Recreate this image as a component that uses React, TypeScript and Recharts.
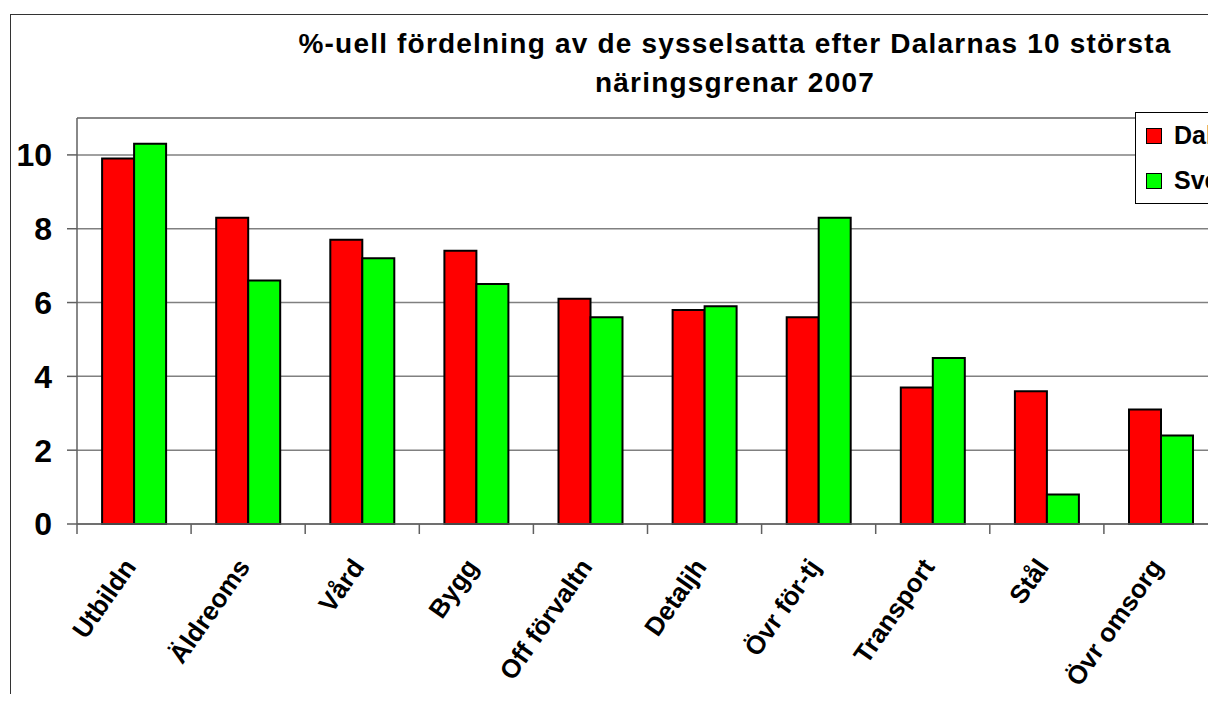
import React from 'react';
import { BarChart, Bar, XAxis, YAxis, CartesianGrid, Legend, ReferenceLine } from 'recharts';

const categories = ['Utbildn', 'Äldreoms', 'Vård', 'Bygg', 'Off förvaltn', 'Detaljh', 'Övr för-tj', 'Transport', 'Stål', 'Övr omsorg'];
const dalarna = [9.9, 8.3, 7.7, 7.4, 6.1, 5.8, 5.6, 3.7, 3.6, 3.1];
const sverige = [10.3, 6.6, 7.2, 6.5, 5.6, 5.9, 8.3, 4.5, 0.8, 2.4];
const seriesNames = ['Dalarna', 'Sverige'];
const seriesColors = ['#FF0000', '#00FF00'];
const yTicks = [0, 2, 4, 6, 8, 10];
const titleLines = ['%-uell fördelning av de sysselsatta efter Dalarnas 10 största', 'näringsgrenar 2007'];

const data = categories.map((name, i) => ({ name, dalarna: dalarna[i], sverige: sverige[i] }));

const FONT = '"Liberation Sans", Arial, sans-serif';
const AXIS_COLOR = '#606060';

const XTick = (props: any) => {
  const { x, y, payload, index } = props;
  const off = payload && typeof payload.offset === 'number' ? payload.offset : 0;
  const isLast = index === categories.length - 1;
  return (
    <g>
      <line x1={x - off} x2={x - off} y1={y} y2={y + 10} stroke={AXIS_COLOR} strokeWidth={1.5} />
      {isLast && <line x1={x + off} x2={x + off} y1={y} y2={y + 10} stroke={AXIS_COLOR} strokeWidth={1.5} />}
      <g transform={`translate(${x + 3},${y + 43})`}>
        <text textAnchor="end" transform="rotate(-55)" fontSize={26} fontWeight="bold" fill="#000" fontFamily={FONT}>
          {payload.value}
        </text>
      </g>
    </g>
  );
};

const LegendBox = (props: any) => {
  const { payload } = props;
  return (
    <div
      style={{
        border: '1.5px solid #000',
        background: '#fff',
        width: 200,
        height: 92,
        boxSizing: 'border-box',
        paddingLeft: 10,
        fontFamily: FONT,
      }}
    >
      {(payload || []).map((p: any, i: number) => (
        <div key={i} style={{ height: 45, display: 'flex', alignItems: 'center' }}>
          <div
            style={{
              width: 16,
              height: 16,
              boxSizing: 'border-box',
              background: p.color,
              border: '1.5px solid #000',
              marginRight: 12,
            }}
          />
          <span style={{ fontSize: 25, fontWeight: 'bold', color: '#000' }}>{p.value}</span>
        </div>
      ))}
    </div>
  );
};

export default function App() {
  return (
    <div
      style={{
        position: 'relative',
        width: 1216,
        height: 702,
        margin: -8,
        overflow: 'hidden',
        background: '#fff',
        fontFamily: FONT,
      }}
    >
      <div
        style={{
          position: 'absolute',
          left: 10,
          top: 14,
          width: 1400,
          height: 900,
          border: '1.5px solid #333',
        }}
      />
      <div
        style={{
          position: 'absolute',
          left: 0,
          top: 24,
          width: 1470,
          textAlign: 'center',
          fontSize: 28,
          lineHeight: '39px',
          fontWeight: 'bold',
          letterSpacing: 1.2,
          color: '#000',
        }}
      >
        {titleLines.map((t, i) => (
          <div key={i}>{t}</div>
        ))}
      </div>
      <div style={{ position: 'absolute', left: 0, top: 0 }}>
        <BarChart
          width={1300}
          height={702}
          data={data}
          margin={{ top: 118, right: 82, bottom: 0, left: 0 }}
          barCategoryGap="22%"
          barGap={0}
        >
          <CartesianGrid vertical={false} stroke="#808080" strokeWidth={1.5} />
          <XAxis
            dataKey="name"
            height={178}
            interval={0}
            tickLine={false}
            tickSize={0}
            tickMargin={0}
            axisLine={{ stroke: AXIS_COLOR, strokeWidth: 1.5 }}
            tick={<XTick />}
          />
          <YAxis
            width={77}
            domain={[0, 11]}
            ticks={yTicks}
            interval={0}
            tickSize={10}
            tickMargin={15}
            axisLine={{ stroke: AXIS_COLOR, strokeWidth: 1.5 }}
            tickLine={{ stroke: AXIS_COLOR, strokeWidth: 1.5 }}
            tick={{ fontSize: 32, fontWeight: 'bold', fill: '#000', fontFamily: FONT }}
          />
          <ReferenceLine y={11} stroke="#808080" strokeWidth={1.5} />
          <Legend
            layout="vertical"
            align="center"
            verticalAlign="middle"
            content={<LegendBox />}
            wrapperStyle={{ left: 1135, top: 112, width: 200, height: 92 }}
          />
          <Bar
            dataKey="dalarna"
            name={seriesNames[0]}
            fill={seriesColors[0]}
            stroke="#000"
            strokeWidth={2}
            isAnimationActive={false}
          />
          <Bar
            dataKey="sverige"
            name={seriesNames[1]}
            fill={seriesColors[1]}
            stroke="#000"
            strokeWidth={2}
            isAnimationActive={false}
          />
        </BarChart>
      </div>
    </div>
  );
}
